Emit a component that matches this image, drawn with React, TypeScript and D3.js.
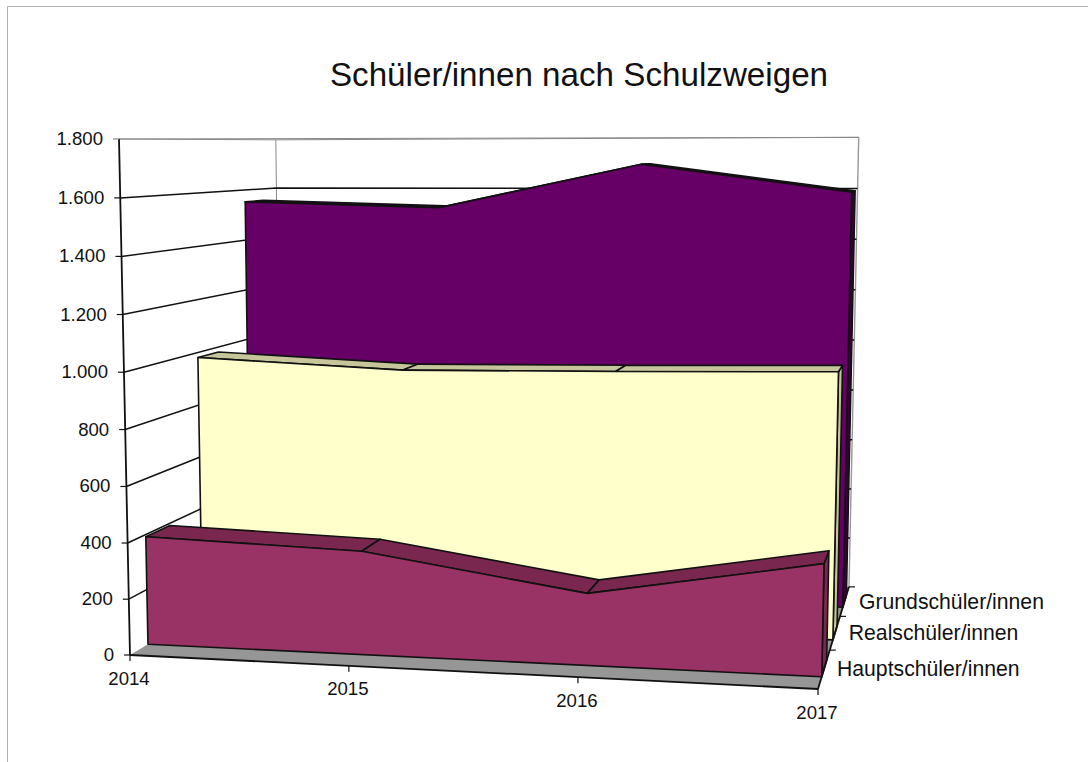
import React from 'react';
import * as d3 from 'd3';

const years = ['2014', '2015', '2016', '2017'];
const yTicks = [0, 200, 400, 600, 800, 1000, 1200, 1400, 1600, 1800];
const hauptschueler = [392, 369, 252, 386];
const realschueler = [981, 948, 958, 972];
const grundschueler = [1553, 1532, 1700, 1594];
const seriesNames = ['Hauptschüler/innen', 'Realschüler/innen', 'Grundschüler/innen'];

const fmt = (v: number) => v.toLocaleString('de-DE');

// depth slots of the three series, front to back
const SLOTS: [number, number][] = [[0.1, 0.24], [0.43, 0.565], [0.765, 0.9]];
const STYLES = [
  { front: '#993366', top: '#7a2750', side: '#7a2750' },
  { front: '#ffffcc', top: '#c6c69a', side: '#c6c69a' },
  { front: '#660066', top: '#3a003a', side: '#3a003a' },
];

// projective box: corners of the unit cube on screen + foreshortening per axis
const O = [130, 655];
const X = [818, 689];
const Y = [119, 139];
const Z = [281, 564.5];
const K = { x: -0.067, y: -0.03, z: 0.215 };

const project = (x: number, y: number, z: number): [number, number] => {
  const d = 1 + K.x * x + K.y * y + K.z * z;
  const c = (i: number) =>
    (O[i] + x * ((1 + K.x) * X[i] - O[i]) + y * ((1 + K.y) * Y[i] - O[i]) + z * ((1 + K.z) * Z[i] - O[i])) / d;
  return [c(0), c(1)];
};

const xScale = d3.scalePoint<string>().domain(years).range([0, 1]);
const yScale = d3.scaleLinear().domain([0, 1800]).range([0, 1]);
const zScale = d3.scaleLinear().domain([0, 3]).range([0, 1]);
const line = d3.line<[number, number]>();
const poly = (pts: [number, number][]) => line(pts) + 'Z';

const FONT = '"Liberation Sans", Arial, sans-serif';
const INK = '#111';

const Series = ({ values, slot, style }: { values: number[]; slot: [number, number]; style: typeof STYLES[0] }) => {
  const [z0, z1] = slot;
  const pt = (i: number, z: number) => project(xScale(years[i])!, yScale(values[i]), z);
  const last = years.length - 1;
  const frontPts: [number, number][] = [
    project(0, 0, z0),
    ...years.map((_, i) => pt(i, z0)),
    project(1, 0, z0),
  ];
  const sidePts: [number, number][] = [project(1, 0, z0), pt(last, z0), pt(last, z1), project(1, 0, z1)];
  return (
    <g stroke={INK} strokeWidth={1.6} strokeLinejoin="round">
      <path d={poly(sidePts)} fill={style.side} />
      {years.slice(0, -1).map((_, i) => (
        <path key={i} d={poly([pt(i, z0), pt(i + 1, z0), pt(i + 1, z1), pt(i, z1)])} fill={style.top} />
      ))}
      <path d={poly(frontPts)} fill={style.front} />
    </g>
  );
};

export default function App() {
  const floor: [number, number][] = [project(0, 0, 0), project(1, 0, 0), project(1, 0, 1), project(0, 0, 1)];
  return (
    <svg width={1088} height={762} style={{ position: 'absolute', left: 0, top: 0, fontFamily: FONT }}>
      <rect width={1088} height={762} fill="#fff" />
      <path d="M7.5,762V6.5H1088" fill="none" stroke="#b0b0b0" strokeWidth={1} />

      <text x={579} y={86} fontSize={33.2} textAnchor="middle" fill={INK}>Schüler/innen nach Schulzweigen</text>

      {/* walls */}
      <path d={poly([project(0, 1, 0), project(0, 1, 1), project(1, 1, 1)])} fill="none" stroke="#888" strokeWidth={1} />
      <path d={line([project(0, 0, 1), project(0, 1, 1)])!} stroke="#888" strokeWidth={1} fill="none" />
      <path d={line([project(1, 0, 1), project(1, 1, 1)])!} stroke="#999" strokeWidth={1.4} fill="none" />
      {yTicks.slice(1, -1).map(v => (
        <path key={v} fill="none" stroke={INK} strokeWidth={1.5}
          d={line([project(0, yScale(v), 0), project(0, yScale(v), 1), project(1, yScale(v), 1)])!} />
      ))}
      <path d={poly(floor)} fill="#969696" stroke="none" />

      {[grundschueler, realschueler, hauptschueler].map((values, i) => (
        <Series key={i} values={values} slot={SLOTS[2 - i]} style={STYLES[2 - i]} />
      ))}

      {/* axes */}
      <g stroke={INK} fill="none" strokeWidth={1.8}>
        <path d={line([project(0, 0, 0), project(0, 1, 0)])!} />
        <path d={line([project(0, 0, 0), project(1, 0, 0)])!} />
        <path d={line([project(1, 0, 0), project(1, 0, 1)])!} />
      </g>
      {yTicks.map(v => {
        const [px, py] = project(0, yScale(v), 0);
        return (
          <g key={v}>
            <line x1={px - 6} x2={px} y1={py} y2={py} stroke={v === 1800 ? '#888' : INK} strokeWidth={1.2} />
            <text x={px - 16} y={py + 6} fontSize={18.6} textAnchor="end" fill={INK}>{fmt(v).replace(/\s/g, '')}</text>
          </g>
        );
      })}
      {years.map((yr, i) => {
        const [px, py] = project(xScale(yr)!, 0, 0);
        return (
          <g key={yr}>
            <line x1={px} x2={px} y1={py} y2={py + 6} stroke={INK} strokeWidth={1.2} />
            <text x={px - 1} y={py + 29.5} fontSize={18.6} textAnchor="middle" fill={INK}>{yr}</text>
          </g>
        );
      })}
      {[1, 2, 3].map(i => {
        const [px, py] = project(1, 0, zScale(i));
        return <line key={i} x1={px} x2={px + 6} y1={py} y2={py} stroke={INK} strokeWidth={1.2} />;
      })}
      {seriesNames.map((name, i) => {
        const [px, py] = project(1, 0, zScale(i));
        return <text key={name} x={px + 19} y={py - 13.5 + i * 3} fontSize={21.2} fill={INK}>{name}</text>;
      })}
    </svg>
  );
}
